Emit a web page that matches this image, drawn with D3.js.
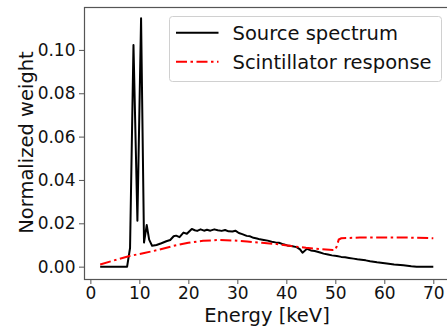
<!DOCTYPE html>
<html>
<head>
<meta charset="utf-8">
<script src="https://cdn.jsdelivr.net/npm/d3@7"></script>
<style>
  body { margin: 0; background: #fff; }
  svg { display: block; font-family: "DejaVu Sans", sans-serif; }
</style>
</head>
<body>
<svg id="chart" width="447" height="331"></svg>
<script>
// source spectrum (keV, normalized weight)
const sourceEnergy = [2, 7.5, 8.1, 8.8, 9.6, 10.35, 10.95, 11.5, 12.0, 12.6, 13.5, 14.5, 15.5, 16.3, 17.0, 17.5,
  18.2, 19.0, 19.7, 20.7, 21.3, 21.8, 22.5, 23.2, 23.8, 24.5, 25.3, 26.0, 26.8, 27.5, 28.2, 29.0, 29.6, 30.3,
  31.0, 31.9, 32.6, 33.3, 34.0, 34.6, 35.4, 36.2, 37.0, 37.8, 38.5, 39.4, 40.2, 41.0, 42.1, 42.8, 43.3, 44.2,
  45.0, 45.8, 46.9, 47.6, 48.5, 49.3, 50.3, 51.2, 52.0, 52.8, 53.7, 54.5, 55.3, 56.2, 57.1, 58.5, 60.5, 62.0,
  63.9, 65.5, 66.6, 70];
const sourceWeight = [0, 0, 0.0086, 0.1023, 0.0212, 0.1146, 0.0111, 0.0192, 0.0125, 0.0096, 0.0100, 0.0108, 0.0117, 0.0123, 0.0140, 0.0143,
  0.0136, 0.0157, 0.0152, 0.0174, 0.0168, 0.0165, 0.0172, 0.0166, 0.0170, 0.0166, 0.0172, 0.0168, 0.0165, 0.0169, 0.0163, 0.0162, 0.0166, 0.0155,
  0.0150, 0.0142, 0.0140, 0.0133, 0.0130, 0.0126, 0.0123, 0.0120, 0.0115, 0.0112, 0.0110, 0.0103, 0.0098, 0.0095, 0.0090, 0.0080, 0.0064, 0.0082,
  0.0075, 0.0072, 0.0065, 0.0060, 0.0056, 0.0052, 0.0049, 0.0045, 0.0043, 0.0040, 0.0037, 0.0034, 0.0032, 0.0029, 0.0025, 0.0020, 0.0014, 0.0010,
  0.0006, 0.0002, 0, 0];

// scintillator response
const scintEnergy = [2, 5, 8, 11, 14, 17, 20, 23, 26, 29, 32, 35, 38, 41, 44, 47, 49.5, 50.0, 50.3, 50.7, 51.2, 55, 60, 65, 70];
const scintWeight = [0.0010, 0.0030, 0.0049, 0.0063, 0.0078, 0.0096, 0.0110, 0.0119, 0.0123, 0.0121, 0.0116, 0.0110, 0.0104, 0.0095,
  0.0087, 0.0081, 0.0077, 0.0078, 0.0095, 0.0125, 0.0131, 0.0134, 0.0135, 0.0134, 0.0131];

const xTicks = [0, 10, 20, 30, 40, 50, 60, 70];
const yTicks = [0, 0.02, 0.04, 0.06, 0.08, 0.10];
const seriesNames = ['Source spectrum', 'Scintillator response'];

const plotLeft = 84, plotRight = 448, plotTop = 7, plotBottom = 279;
const spine = '#555';

const svg = d3.select('#chart');

const x = d3.scaleLinear().domain([-1.3, 73]).range([plotLeft, plotRight]);
const y = d3.scaleLinear().domain([-0.0057, 0.1198]).range([plotBottom, plotTop]);

// axes
const xAxis = d3.axisBottom(x).tickValues(xTicks).tickFormat(d3.format('d')).tickSize(5).tickPadding(3);
const yAxis = d3.axisLeft(y).tickValues(yTicks).tickFormat(d3.format('.2f')).tickSize(5).tickPadding(3.5);

const gx = svg.append('g').attr('transform', 'translate(0,' + plotBottom + ')').call(xAxis);
const gy = svg.append('g').attr('transform', 'translate(' + plotLeft + ',0)').call(yAxis);
[gx, gy].forEach(g => {
  g.select('.domain').remove();
  g.selectAll('line').attr('stroke', spine);
  g.selectAll('text').attr('fill', '#111').style('font-size', '17px').style('font-family', '"DejaVu Sans", sans-serif');
});

// frame
svg.append('rect')
  .attr('x', plotLeft + 0.5).attr('y', plotTop + 0.5)
  .attr('width', plotRight - plotLeft).attr('height', plotBottom - plotTop)
  .attr('fill', 'none').attr('stroke', spine).attr('stroke-width', 1.2);

const line = d3.line().x(d => x(d[0])).y(d => y(d[1]));

svg.append('path')
  .datum(d3.zip(sourceEnergy, sourceWeight))
  .attr('d', line)
  .attr('fill', 'none').attr('stroke', '#000').attr('stroke-width', 2).attr('stroke-linejoin', 'round');

svg.append('path')
  .datum(d3.zip(scintEnergy, scintWeight))
  .attr('d', line)
  .attr('fill', 'none').attr('stroke', '#f00').attr('stroke-width', 2)
  .attr('stroke-dasharray', '11,3.5,2.5,3.5');

// axis labels
svg.append('text')
  .attr('x', 267).attr('y', 321.5)
  .attr('text-anchor', 'middle')
  .style('font-size', '19.5px').attr('fill', '#111')
  .text('Energy [keV]');

svg.append('text')
  .attr('transform', 'translate(33,142.5) rotate(-90)')
  .attr('text-anchor', 'middle')
  .style('font-size', '19.5px').attr('fill', '#111')
  .text('Normalized weight');

// legend
const legend = svg.append('g');
legend.append('rect')
  .attr('x', 169.5).attr('y', 16.5).attr('width', 272).attr('height', 65).attr('rx', 3)
  .attr('fill', '#fff').attr('fill-opacity', 0.8).attr('stroke', '#d0d0d0');

const styles = [{ color: '#000', dash: null }, { color: '#f00', dash: '11,3.5,2.5,3.5' }];
seriesNames.forEach((name, i) => {
  const ly = 32.7 + i * 29;
  legend.append('line')
    .attr('x1', 176).attr('x2', 218.5).attr('y1', ly).attr('y2', ly)
    .attr('stroke', styles[i].color).attr('stroke-width', 2)
    .attr('stroke-dasharray', styles[i].dash);
  legend.append('text')
    .attr('x', 232.5).attr('y', ly + 7)
    .style('font-size', '19.5px').attr('fill', '#111')
    .text(name);
});
</script>
</body>
</html>
